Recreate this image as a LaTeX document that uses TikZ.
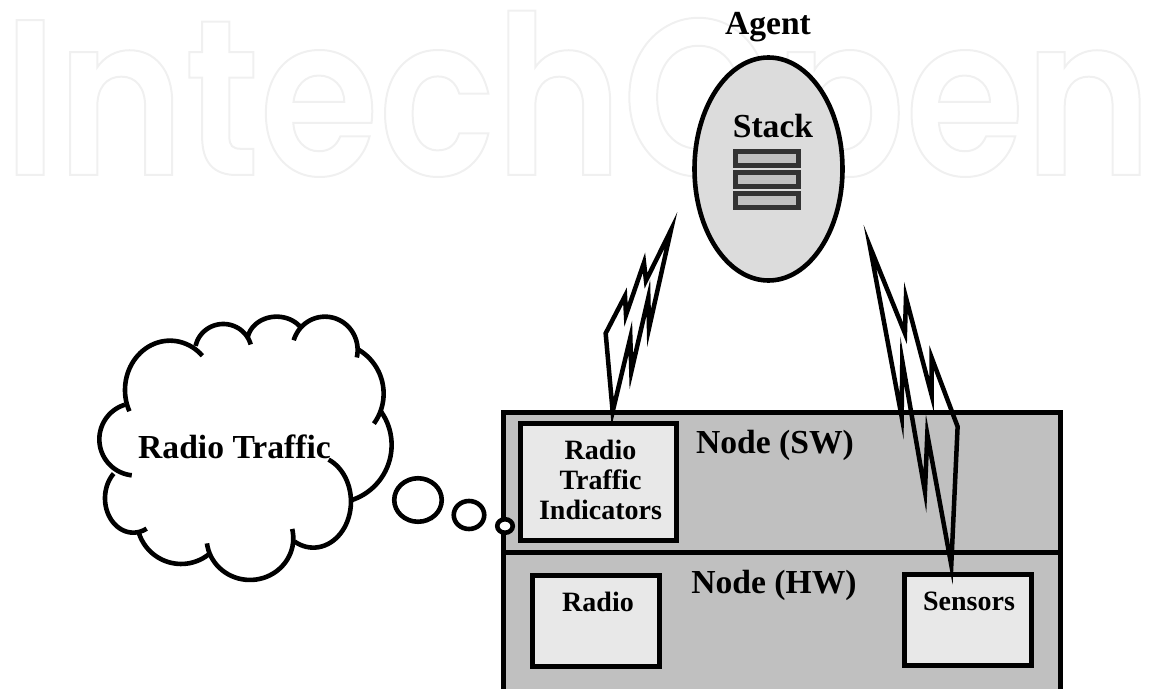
\documentclass[tikz,border=0pt]{standalone}
\usepackage{fontspec}
\setmainfont{Liberation Serif}
\newfontfamily\wmfont{Poppins}[BoldFont={Poppins SemiBold},FakeStretch=0.87]
\usetikzlibrary{shapes.geometric}
\definecolor{boxgray}{HTML}{C0C0C0}
\definecolor{lightbox}{HTML}{E8E8E8}
\definecolor{agentfill}{HTML}{DCDCDC}
\definecolor{stackline}{HTML}{333333}
\tikzset{
  big/.style={font=\fontsize{33.6bp}{33.6bp}\selectfont\bfseries,anchor=base,inner sep=0pt,text=black},
  small/.style={font=\fontsize{28bp}{28bp}\selectfont\bfseries,anchor=base,inner sep=0pt,text=black},
  panel/.style={fill=boxgray,draw=black,line width=5bp,miter limit=10},
  inbox/.style={rectangle,fill=lightbox,draw=black,line width=5bp,inner sep=0pt},
  stackbar/.style={rectangle,fill=boxgray,draw=stackline,line width=5bp,minimum width=63bp,minimum height=14.5bp,inner sep=0pt},
  bolt/.style={draw=black,line width=4.5bp,miter limit=40,line join=miter},
  puff/.style={draw=black,line width=4.6bp,line cap=butt},
  bubble/.style={ellipse,draw=black,line width=4.6bp,fill=white,inner sep=0pt},
}
% one lobe of the cloud: centre, radii, start and end angle, y pointing down
\newcommand{\puffarc}[6]{\draw[puff] plot[domain=#5:#6,samples=40,smooth] ({#1+#3*cos(\x)},{#2+#4*sin(\x)});}
\begin{document}
\begin{tikzpicture}[x=1bp,y=-1bp]
\useasboundingbox (0,0) rectangle (1151,689);
\clip (0,0) rectangle (1151,689);
% watermark
\node[anchor=base west,inner sep=0pt] (wm) at (3,175)
 {\fontsize{222bp}{222bp}\wmfont\bfseries\special{pdf:code q 1 Tr 2 w 0.94 G}IntechOpen\special{pdf:code 0 Tr 1 w 0 G Q}};
% node panels
\draw[panel] (503.7,412.3) rectangle (1060.7,552.5);
\draw[panel] (503.7,552.5) rectangle (1060.7,700);
\node[inbox,minimum width=156bp,minimum height=116.7bp] (rti) at (598.7,481.7) {};
\node[inbox,minimum width=127bp,minimum height=91bp] (radio) at (595.8,621.2) {};
\node[inbox,minimum width=127bp,minimum height=90.7bp] (sensors) at (967.5,619.7) {};
% agent
\node[ellipse,fill=agentfill,draw=black,line width=4.6bp,minimum width=148bp,minimum height=223bp,inner sep=0pt] (agent) at (768.5,169) {};
\node[stackbar] (s1) at (767,158.7) {};
\node[stackbar] (s2) at (767,179.6) {};
\node[stackbar] (s3) at (767,200.3) {};
% text
\node[big] (tagent) at (768,35) {Agent};
\node[big] (tstack) at (773,138) {Stack};
\node[big] (tcloud) at (234.5,458) {Radio Traffic};
\node[big] (tsw) at (775,453) {Node (SW)};
\node[big] (thw) at (774,593) {Node (HW)};
\node[small] (t1) at (600.5,459) {Radio};
\node[small] (t2) at (600.5,489) {Traffic};
\node[small] (t3) at (600.5,519) {Indicators};
\node[small] (t4) at (598,611.5) {Radio};
\node[small] (t5) at (969,610) {Sensors};
% bolts
\begin{scope}[shift={(590,200)},x=0.3333bp,y=-0.3333bp]
\draw[bolt] (243,90) -- (168,242) -- (162,188) -- (108,345) -- (105,288) -- (47,400) -- (68,635) -- (121,413) -- (124,515) -- (175,293) -- (177,385) -- cycle;
\draw[bolt] (840,140) -- (945,400) -- (948,293) -- (1025,585) -- (1025,473) -- (1103,680) -- (1084,1095) -- (1012,703) -- (1005,875) -- (937,483) -- (935,650) -- cycle;
\end{scope}
% cloud
\begin{scope}[shift={(80,290)},x=0.3333bp,y=-0.3333bp]
\puffarc{270}{300}{135}{148}{154.5}{316}
\puffarc{430}{185}{85}{83}{192}{345}
\puffarc{590}{155}{88}{75}{188}{326}
\puffarc{735}{180}{98}{100}{197}{373}
\puffarc{758}{311}{153}{153}{300}{396}
\puffarc{761}{465}{174}{174}{323}{432}
\puffarc{700}{635}{113}{138}{294}{480}
\puffarc{510}{745}{130}{125}{-13}{173}
\puffarc{303.5}{689}{133}{133}{50}{164}
\puffarc{160}{625}{85}{103}{62}{226}
\puffarc{166.6}{448}{108.6}{108.6}{96}{253}
\end{scope}
% thought bubbles
\node[bubble,minimum width=47.5bp,minimum height=43.5bp] (b1) at (418,500) {};
\node[bubble,minimum width=30.5bp,minimum height=28bp] (b2) at (469,515) {};
\node[bubble,minimum width=15.5bp,minimum height=13.5bp] (b3) at (505,526) {};
\end{tikzpicture}
\end{document}
